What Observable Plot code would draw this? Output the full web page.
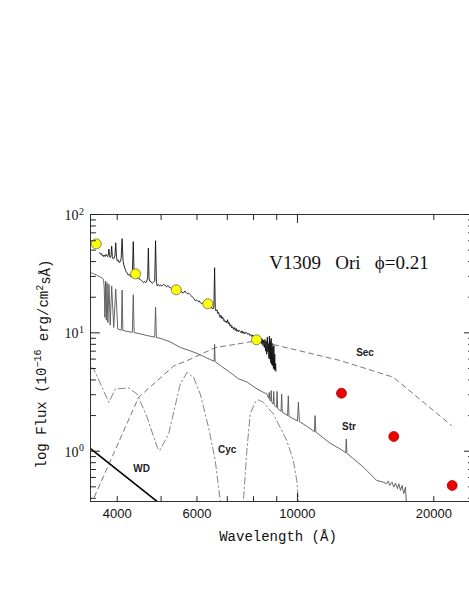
<!DOCTYPE html>
<html><head><meta charset="utf-8">
<script src="https://cdn.jsdelivr.net/npm/d3@7"></script>
<script src="https://cdn.jsdelivr.net/npm/@observablehq/plot@0.6"></script>
<style>
html,body{margin:0;padding:0;background:#fff;overflow:hidden}
#chart svg{display:block}
</style></head><body><div id="chart"></div>
<script>
// ---- data: [wavelength (Å), flux (1e-16 erg/cm2/s/Å)] ----
const observed = [
[3660,47.5],[3675,46.2],[3690,46.8],[3705,44.9],[3720,45.6],[3735,44.0],[3750,45.2],[3765,44.3],
[3780,46.0],[3795,44.8],[3812,44.0],[3825,46.5],[3835,51.0],[3845,45.0],[3860,43.2],[3875,44.5],
[3889,54.0],[3902,44.0],[3920,42.0],[3940,42.8],[3955,45.5],[3970,57.6],[3985,44.0],[4000,40.5],
[4020,41.2],[4040,39.3],[4060,39.8],[4080,42.0],[4101,62.5],[4120,41.0],[4136,37.5],[4160,35.0],
[4185,33.0],[4207,32.0],[4230,30.8],[4255,31.2],[4279,30.0],[4300,29.6],[4320,32.0],[4340,59.0],
[4360,31.0],[4388,29.0],[4410,29.6],[4430,28.6],[4450,30.2],[4471,28.5],[4500,28.2],[4530,27.6],
[4555,27.0],[4576,26.5],[4600,27.2],[4625,26.6],[4650,27.4],[4670,29.5],[4686,52.0],[4702,29.0],
[4720,27.3],[4750,27.0],[4780,26.2],[4810,26.8],[4840,27.5],[4861,60.0],[4882,27.0],[4900,25.0],
[4930,25.6],[4960,24.8],[4990,25.4],[5020,24.9],[5065,25.7],[5100,25.2],[5140,24.5],[5180,25.1],
[5215,24.2],[5241,24.1],[5280,23.6],[5320,24.0],[5360,23.2],[5400,22.7],[5440,23.1],[5480,22.5],
[5520,22.8],[5560,21.9],[5607,21.8],[5640,22.6],[5670,22.0],[5710,21.4],[5750,21.7],[5799,21.0],
[5830,20.6],[5870,19.9],[5910,19.5],[5948,18.7],[5990,18.9],[6030,18.4],[6070,18.6],[6101,18.0],
[6140,17.7],[6180,17.9],[6220,17.3],[6260,17.5],[6313,16.9],[6360,16.6],[6400,16.9],[6440,16.2],
[6474,16.4],[6510,15.9],[6540,16.6],[6563,35.5],[6585,16.0],[6610,15.3],[6640,15.7],[6670,14.6],
[6700,14.9],[6730,13.8],[6753,13.5],[6780,14.1],[6810,13.2],[6840,13.6],[6870,12.7],[6900,12.9],
[6930,12.3],[6960,12.6],[6985,12.2],[7010,12.9],[7040,11.9],[7070,12.2],[7100,11.4],[7130,11.7],
[7160,11.0],[7190,11.3],[7225,10.7],[7255,11.1],[7290,10.5],[7320,10.9],[7350,10.3],[7380,10.6],
[7410,10.2],[7440,10.5],[7474,10.3],[7510,10.0],[7545,10.4],[7580,9.9],[7615,10.2],[7650,9.8],
[7690,10.1],[7733,10.0],[7770,9.7],[7810,9.9],[7850,9.5],[7890,9.7],[7930,9.3],[7970,9.6],
[7995,9.4],[8030,8.9],[8060,9.3],[8090,8.7],[8120,9.1],[8150,8.5],[8180,8.9],[8210,8.3],
[8240,8.8],[8273,8.5],[8300,9.0],[8330,8.1],[8360,8.9],[8390,7.8],[8420,8.7],[8450,7.5],
[8480,8.8],[8505,7.0],[8530,8.5],[8555,6.6],[8580,9.2],[8605,6.9],[8629,8.0],[8650,6.1],
[8670,9.4],[8690,6.0],[8710,8.6],[8730,5.6],[8750,9.0],[8770,5.4],[8790,8.2],[8810,5.3],
[8830,7.6],[8850,5.0],[8870,7.8],[8890,4.9],[8910,6.6],[8930,4.8],[8950,5.5],[8965,4.75]
];
const stream = [
[3492,32.3],[3550,31.6],[3600,30.8],[3650,29.9],[3700,29.2],[3730,28.4],[3745,24.0],[3757,13.5],
[3771,27.4],[3784,12.8],[3798,26.5],[3815,12.2],[3835,25.7],[3860,11.6],[3889,24.9],[3930,11.1],
[3970,23.5],[4010,10.8],[4060,10.6],[4085,10.55],[4101,23.0],[4117,10.5],[4200,10.3],[4320,10.1],
[4340,21.0],[4360,10.05],[4500,9.8],[4650,9.5],[4840,9.2],[4861,16.5],[4882,9.15],[5000,8.95],
[5250,8.35],[5520,7.5],[5800,7.05],[6030,6.65],[6300,6.15],[6545,5.75],[6563,8.0],[6581,5.72],
[6800,5.2],[7105,4.63],[7400,4.1],[7733,3.85],[8100,3.4],[8410,3.14],[8560,3.05],[8640,2.8],
[8665,3.14],[8690,2.7],[8730,2.65],[8750,3.25],[8775,2.6],[8840,2.5],[8863,3.2],[8890,2.45],
[8990,2.35],[9015,3.2],[9045,2.3],[9200,2.17],[9229,3.04],[9260,2.14],[9510,2.0],[9546,2.94],
[9580,1.97],[10000,1.8],[10049,2.59],[10100,1.78],[10500,1.62],[10900,1.46],[10938,2.0],[10980,1.45],
[11800,1.17],[12500,1.03],[12780,0.97],[12818,1.27],[12860,0.96],[14000,0.73],[14960,0.566],
[15460,0.548],[15730,0.531],[15860,0.559],[15995,0.514],[16180,0.548],[16320,0.497],[16460,0.537],
[16630,0.482],[16740,0.531],[16890,0.467],[17020,0.514],[17170,0.438],[17320,0.497],[17410,0.35]
];
const secondary = [
[3560,0.41],[4460,2.85],[5333,5.26],[5704,5.82],[6585,7.5],[7733,8.3],[8135,8.6],
[12420,5.84],[16280,4.22],[21880,1.65]
];
const cyclotronA = [
[3492,5.1],[3551,4.95],[3832,2.59],[3965,3.36],[4241,3.42],[4426,3.04],[4658,1.93],[4900,1.08],
[4964,1.01],[5195,1.4],[5512,3.7],[5705,4.63],[5899,4.2],[6101,3.04],[6363,1.59],[6584,0.835],
[6753,0.384],[6800,0.3]
];
const cyclotronB = [
[7550,0.3],[7600,0.384],[7733,1.01],[7863,2.06],[8067,2.59],[8203,2.71],[8410,2.59],[8849,2.06],
[9472,1.23],[9794,0.835],[9965,0.566],[10046,0.384],[10080,0.3]
];
const whiteDwarf = [[3492,1.05],[5200,0.314]];
const photOptical = [[3595,56.5],[4391,31.5],[5400,23.1],[6339,17.6],[8121,8.74]];
const photIR = [[12510,3.09],[16320,1.33],[21960,0.513]];
const componentLabels = [
  {text:"Sec", w:14100, f:6.73},
  {text:"Str", w:13000, f:1.595},
  {text:"Cyc", w:6993,  f:1.03},
  {text:"WD",  w:4527,  f:0.705}
];
const titleText = "V1309\u00a0\u00a0\u00a0Ori\u00a0\u00a0\u00a0\u03d5=0.21";
const titlePos = {w:13000, f:39.3};
const xMinorTicks = [4000,5000,6000,7000,8000,9000,20000];
const xMajorTicks = [10000];
const xTickLabels = [4000,6000,10000,20000];
const yMajorTicks = [1,10,100];
const yMinorTicks = [0.4,0.5,0.6,0.7,0.8,0.9,2,3,4,5,6,7,8,9,20,30,40,50,60,70,80,90];
const xTitle = "Wavelength (\u00c5)";
const yTitle = "log Flux (10-16 erg/cm2s\u00c5)";

const W = d => d[0], F = d => d[1];
const tick = {draw(ctx, l) { ctx.moveTo(0, 0); ctx.lineTo(0, -l); }};
const tk = {stroke:"#222", strokeWidth:1, shape:tick, anchor:"start"};
const serif = "Liberation Serif, Times New Roman, serif";
const sans = "Liberation Sans, Arial, sans-serif";
const mono = "Liberation Mono, Courier New, monospace";

const chart = Plot.plot({
  width: 469, height: 607,
  marginTop: 214, marginBottom: 106, marginLeft: 90, marginRight: -4,
  x: {type:"log", domain:[3492, 24475], range:[90, 473], axis:null},
  y: {type:"log", domain:[0.3758, 100], range:[501, 214], axis:null},
  style: {background:"#fff", overflow:"hidden"},
  marks: [
    Plot.line(cyclotronA, {x:W, y:F, stroke:"#777", strokeWidth:0.9, strokeDasharray:"7,3,1.5,3", clip:true}),
    Plot.line(cyclotronB, {x:W, y:F, stroke:"#777", strokeWidth:0.9, strokeDasharray:"7,3,1.5,3", clip:true}),
    Plot.line(secondary, {x:W, y:F, stroke:"#666", strokeWidth:0.9, strokeDasharray:"5,4", clip:true}),
    Plot.line(whiteDwarf, {x:W, y:F, stroke:"#000", strokeWidth:1.6, clip:true}),
    Plot.line(stream, {x:W, y:F, stroke:"#555", strokeWidth:0.9, clip:true}),
    Plot.line(observed, {x:W, y:F, stroke:"#111", strokeWidth:0.9, clip:true}),
    Plot.dot(photOptical, {x:W, y:F, r:5, fill:"#ffff00", stroke:"#555", strokeWidth:0.7}),
    Plot.dot(photIR, {x:W, y:F, r:5, fill:"#ee0000", stroke:"#900", strokeWidth:0.7}),
    Plot.text(componentLabels, {x:"w", y:"f", text:"text", fontSize:10, fontWeight:"bold", fontFamily:sans, fill:"#222"}),
    Plot.text([titleText], {x:()=>titlePos.w, y:()=>titlePos.f, text:d=>d, fontSize:19, fontFamily:serif, fill:"#111"}),
    Plot.frame({stroke:"#333", strokeWidth:1}),
    // inward tick marks
    Plot.vector(xMinorTicks, {x:d=>d, frameAnchor:"bottom", rotate:0, length:5, ...tk}),
    Plot.vector(xMajorTicks, {x:d=>d, frameAnchor:"bottom", rotate:0, length:8, ...tk}),
    Plot.vector(xMinorTicks, {x:d=>d, frameAnchor:"top", rotate:180, length:5, ...tk}),
    Plot.vector(xMajorTicks, {x:d=>d, frameAnchor:"top", rotate:180, length:8, ...tk}),
    Plot.vector(yMinorTicks, {y:d=>d, frameAnchor:"left", rotate:90, length:5, ...tk}),
    Plot.vector(yMajorTicks, {y:d=>d, frameAnchor:"left", rotate:90, length:9, ...tk}),
    Plot.vector(yMinorTicks, {y:d=>d, frameAnchor:"right", rotate:-90, length:5, ...tk}),
    Plot.vector(yMajorTicks, {y:d=>d, frameAnchor:"right", rotate:-90, length:9, ...tk}),
    // tick labels
    Plot.text(xTickLabels, {x:d=>d, frameAnchor:"bottom", text:d=>String(d), lineAnchor:"top", dy:7, fontSize:13, fontFamily:sans, fill:"#111"}),
    Plot.text(yMajorTicks, {y:d=>d, frameAnchor:"left", text:()=>"10", textAnchor:"end", dx:-12, dy:1, fontSize:14, fontFamily:serif, fill:"#111"}),
    Plot.text(yMajorTicks, {y:d=>d, frameAnchor:"left", text:d=>String(Math.round(Math.log10(d))), textAnchor:"start", dx:-11.5, dy:-3, fontSize:10, fontFamily:serif, fill:"#111"}),
    // axis titles
    Plot.text([xTitle], {frameAnchor:"bottom", text:d=>d, textAnchor:"middle", dy:39, dx:-4, fontSize:14, fontFamily:mono, fill:"#111"}),
    Plot.text([yTitle], {frameAnchor:"left", text:d=>d, textAnchor:"middle", rotate:-90, dx:-49, dy:6, fontSize:14, fontFamily:mono, fill:"#111"})
  ]
});

// rich text for the y title (superscripts)
d3.select(chart).selectAll("text").filter(function(){ return this.textContent === yTitle; }).each(function(){
  const t = d3.select(this); t.text(null);
  t.append("tspan").text("log Flux (10");
  t.append("tspan").attr("dy","-0.45em").attr("font-size","10").text("\u221216");
  t.append("tspan").attr("dy","0.45em").text(" erg/cm");
  t.append("tspan").attr("dy","-0.45em").attr("font-size","10").text("2");
  t.append("tspan").attr("dy","0.45em").text("s\u00c5)");
});
document.getElementById("chart").appendChild(chart);
</script>
</body></html>
